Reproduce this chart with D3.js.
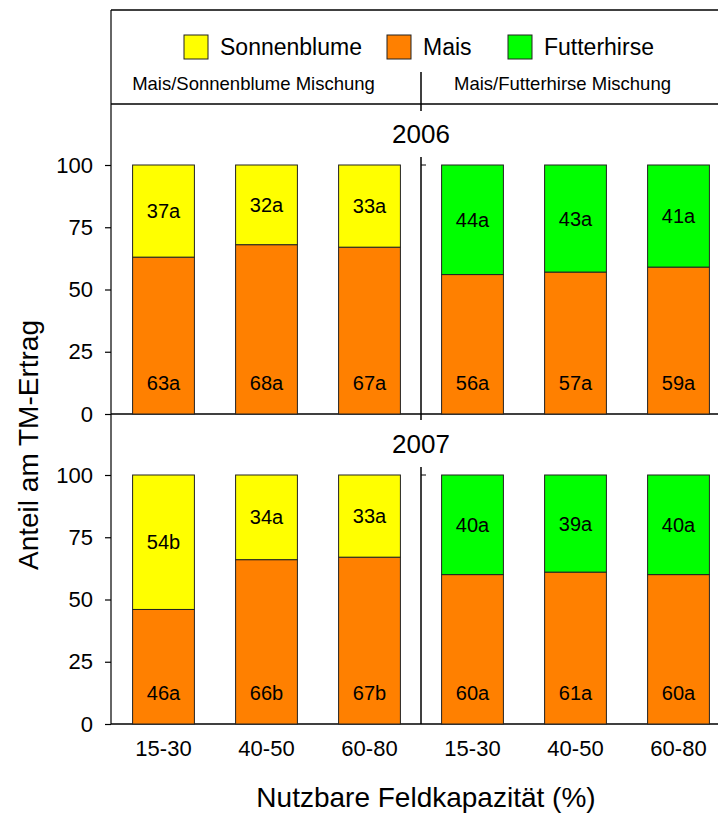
<!DOCTYPE html>
<html>
<head>
<meta charset="utf-8">
<script src="https://cdn.jsdelivr.net/npm/d3@7"></script>
<style>
  body { margin: 0; background: #fff; }
  svg text { font-family: "Liberation Sans", Arial, sans-serif; fill: #000; }
</style>
</head>
<body>
<div id="chart"></div>
<script>
// data
var years = ["2006", "2007"];
var mixes = ["Mais/Sonnenblume Mischung", "Mais/Futterhirse Mischung"];
var fieldCaps = ["15-30", "40-50", "60-80"];
var species = ["Sonnenblume", "Mais", "Futterhirse"];
var speciesColors = ["#ffff00", "#ff8000", "#00ff00"];
var yTicks = [0, 25, 50, 75, 100];

var mais2006 = [63, 68, 67, 56, 57, 59];
var partner2006 = [37, 32, 33, 44, 43, 41];
var maisLabels2006 = ["63a", "68a", "67a", "56a", "57a", "59a"];
var partnerLabels2006 = ["37a", "32a", "33a", "44a", "43a", "41a"];

var mais2007 = [46, 66, 67, 60, 61, 60];
var partner2007 = [54, 34, 33, 40, 39, 40];
var maisLabels2007 = ["46a", "66b", "67b", "60a", "61a", "60a"];
var partnerLabels2007 = ["54b", "34a", "33a", "40a", "39a", "40a"];

var initializeChart = function () {
    var width = 718, height = 816;
    var left = 111, right = 730, top = 10;
    var svg = d3.select("#chart").append("svg")
        .attr("width", width).attr("height", height);

    var keys = [];
    mixes.forEach(function (m, i) {
        fieldCaps.forEach(function (f) { keys.push(i + "|" + f); });
    });
    var x = d3.scaleBand().domain(keys).range([left + 1, right])
        .paddingInner(0.4).paddingOuter(0.2);
    var divX = (x(keys[2]) + x.bandwidth() + x(keys[3])) / 2;

    var panels = [
        { year: years[0], mais: mais2006, partner: partner2006, ml: maisLabels2006, pl: partnerLabels2006,
          y: d3.scaleLinear().domain([0, 100]).range([414, 165]) },
        { year: years[1], mais: mais2007, partner: partner2007, ml: maisLabels2007, pl: partnerLabels2007,
          y: d3.scaleLinear().domain([0, 100]).range([724, 475]) }
    ];

    // frame
    svg.append("line").attr("x1", left).attr("x2", left).attr("y1", top).attr("y2", 724)
        .attr("stroke", "#333").attr("stroke-width", 1.5);
    svg.append("line").attr("x1", left).attr("x2", right).attr("y1", top).attr("y2", top)
        .attr("stroke", "#000").attr("stroke-width", 1.5);
    svg.append("line").attr("x1", left).attr("x2", right).attr("y1", 104).attr("y2", 104)
        .attr("stroke", "#000").attr("stroke-width", 1.5);
    svg.append("line").attr("x1", divX).attr("x2", divX).attr("y1", 72).attr("y2", 111)
        .attr("stroke", "#000").attr("stroke-width", 1.5);

    // legend
    var legX = [184, 387, 508];
    var leg = svg.append("g").selectAll("g").data(species).enter().append("g")
        .attr("transform", function (d, i) { return "translate(" + legX[i] + ",35)"; });
    leg.append("rect").attr("width", 24).attr("height", 24)
        .attr("fill", function (d, i) { return speciesColors[i]; })
        .attr("stroke", "#222").attr("stroke-width", 1);
    leg.append("text").attr("x", 36).attr("y", 20).style("font-size", "23px")
        .text(function (d) { return d; });

    svg.selectAll(".mix").data(mixes).enter().append("text")
        .attr("class", "mix")
        .attr("x", function (d, i) {
            return (x(i + "|" + fieldCaps[0]) + x(i + "|" + fieldCaps[2]) + x.bandwidth()) / 2 - 13;
        })
        .attr("y", 90).attr("text-anchor", "middle").style("font-size", "18.5px")
        .text(function (d) { return d; });

    panels.forEach(function (p) {
        var g = svg.append("g");
        var y = p.y;

        // year title
        g.append("text").attr("x", divX).attr("y", y(100) - 22).attr("text-anchor", "middle")
            .style("font-size", "26px").text(p.year);

        // y axis
        var yAxis = d3.axisLeft(y).tickValues(yTicks).tickSize(6).tickPadding(12);
        var ax = g.append("g").attr("transform", "translate(" + left + ",0)").call(yAxis);
        ax.select(".domain").remove();
        ax.selectAll("line").attr("stroke", "#000").attr("stroke-width", 1.2);
        ax.selectAll("text").style("font-size", "22px")
            .style("font-family", "'Liberation Sans', Arial, sans-serif");

        // baseline
        g.append("line").attr("x1", left).attr("x2", right).attr("y1", y(0)).attr("y2", y(0))
            .attr("stroke", "#000").attr("stroke-width", 1.5);

        // divider with small tick at 100
        g.append("line").attr("x1", divX).attr("x2", divX).attr("y1", y(100) - 8).attr("y2", y(0) + (p.year === years[0] ? 6 : 0))
            .attr("stroke", "#000").attr("stroke-width", 1.5);
        g.append("line").attr("x1", divX).attr("x2", divX + 5).attr("y1", y(100)).attr("y2", y(100))
            .attr("stroke", "#000").attr("stroke-width", 1);

        keys.forEach(function (k, i) {
            var partnerColor = i < 3 ? speciesColors[0] : speciesColors[2];
            var bx = x(k), bw = x.bandwidth();
            var m = p.mais[i], s = p.partner[i];
            g.append("rect").attr("x", bx).attr("y", y(m)).attr("width", bw)
                .attr("height", y(0) - y(m)).attr("fill", speciesColors[1])
                .attr("stroke", "#222").attr("stroke-width", 1);
            g.append("rect").attr("x", bx).attr("y", y(m + s)).attr("width", bw)
                .attr("height", y(m) - y(m + s)).attr("fill", partnerColor)
                .attr("stroke", "#222").attr("stroke-width", 1);
            g.append("text").attr("x", bx + bw / 2).attr("y", y(12.5)).attr("dy", "0.35em")
                .attr("text-anchor", "middle").style("font-size", "20px").text(p.ml[i]);
            g.append("text").attr("x", bx + bw / 2).attr("y", y(m + s / 2)).attr("dy", "0.35em")
                .attr("text-anchor", "middle").style("font-size", "20px").text(p.pl[i]);
        });
    });

    // x tick labels under the bottom panel
    var xAxis = d3.axisBottom(x).tickSize(0).tickPadding(16)
        .tickFormat(function (d) { return d.split("|")[1]; });
    var xa = svg.append("g").attr("transform", "translate(0,724)").call(xAxis);
    xa.select(".domain").remove();
    xa.selectAll("text").style("font-size", "22px")
        .style("font-family", "'Liberation Sans', Arial, sans-serif");

    // axis titles
    svg.append("text").attr("x", divX + 5).attr("y", 807).attr("text-anchor", "middle")
        .style("font-size", "28px").text("Nutzbare Feldkapazität (%)");
    svg.append("text").attr("transform", "translate(38,445) rotate(-90)")
        .attr("text-anchor", "middle").style("font-size", "28px").text("Anteil am TM-Ertrag");
};

initializeChart();
</script>
</body>
</html>
